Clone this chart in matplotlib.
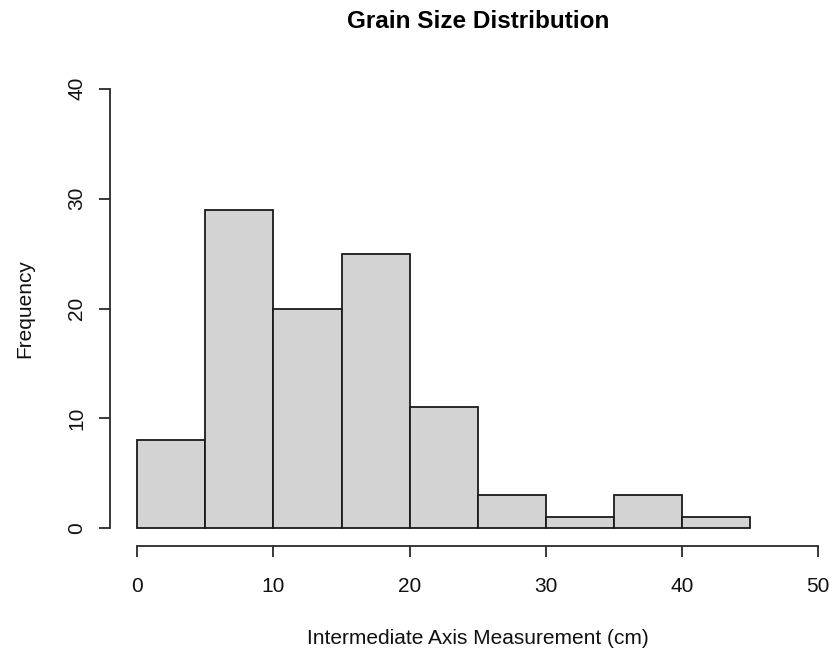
import matplotlib
matplotlib.use("Agg")
import matplotlib.pyplot as plt

bin_edges = [0, 5, 10, 15, 20, 25, 30, 35, 40, 45]
counts = [8, 29, 20, 25, 11, 3, 1, 3, 1]
x_ticks = [0, 10, 20, 30, 40, 50]
y_ticks = [0, 10, 20, 30, 40]

plt.rcParams['font.family'] = ['Liberation Sans', 'DejaVu Sans']

W, H = 832, 653
fig = plt.figure(figsize=(W / 100, H / 100), dpi=100)
ax = fig.add_axes([110 / W, (H - 546) / H, 735.5 / W, 475 / H])

lefts = bin_edges[:-1]
widths = [b - a for a, b in zip(bin_edges[:-1], bin_edges[1:])]
ax.bar(lefts, counts, width=widths, align='edge', color='#d3d3d3',
       edgecolor='#1a1a1a', linewidth=1.3)

ax.set_xlim(-2, 52)
ax.set_ylim(-1.6, 41.6)
ax.set_xticks(x_ticks)
ax.set_yticks(y_ticks)
ax.set_yticklabels([str(v) for v in y_ticks], rotation=90, va='center')

for s in ['top', 'right']:
    ax.spines[s].set_visible(False)
ax.spines['left'].set_bounds(0, 40)
ax.spines['bottom'].set_bounds(0, 50)
for s in ['left', 'bottom']:
    ax.spines[s].set_color('#2a2a2a')
    ax.spines[s].set_linewidth(1.3)

ax.tick_params(axis='both', direction='out', length=8, width=1.3,
               color='#2a2a2a', labelsize=15, labelcolor='#111111')
ax.tick_params(axis='x', pad=14)
ax.tick_params(axis='y', pad=9)

ax.set_xlabel('Intermediate Axis Measurement (cm)', fontsize=15,
              labelpad=24, color='#111111')
ax.set_ylabel('Frequency', fontsize=15, labelpad=24, color='#111111')
fig.suptitle('Grain Size Distribution', fontsize=17.5, fontweight='bold',
             x=(110 + 735.5 / 2) / W, y=1 - 21 / H, va='center')

fig.savefig('out.png', dpi=100)
